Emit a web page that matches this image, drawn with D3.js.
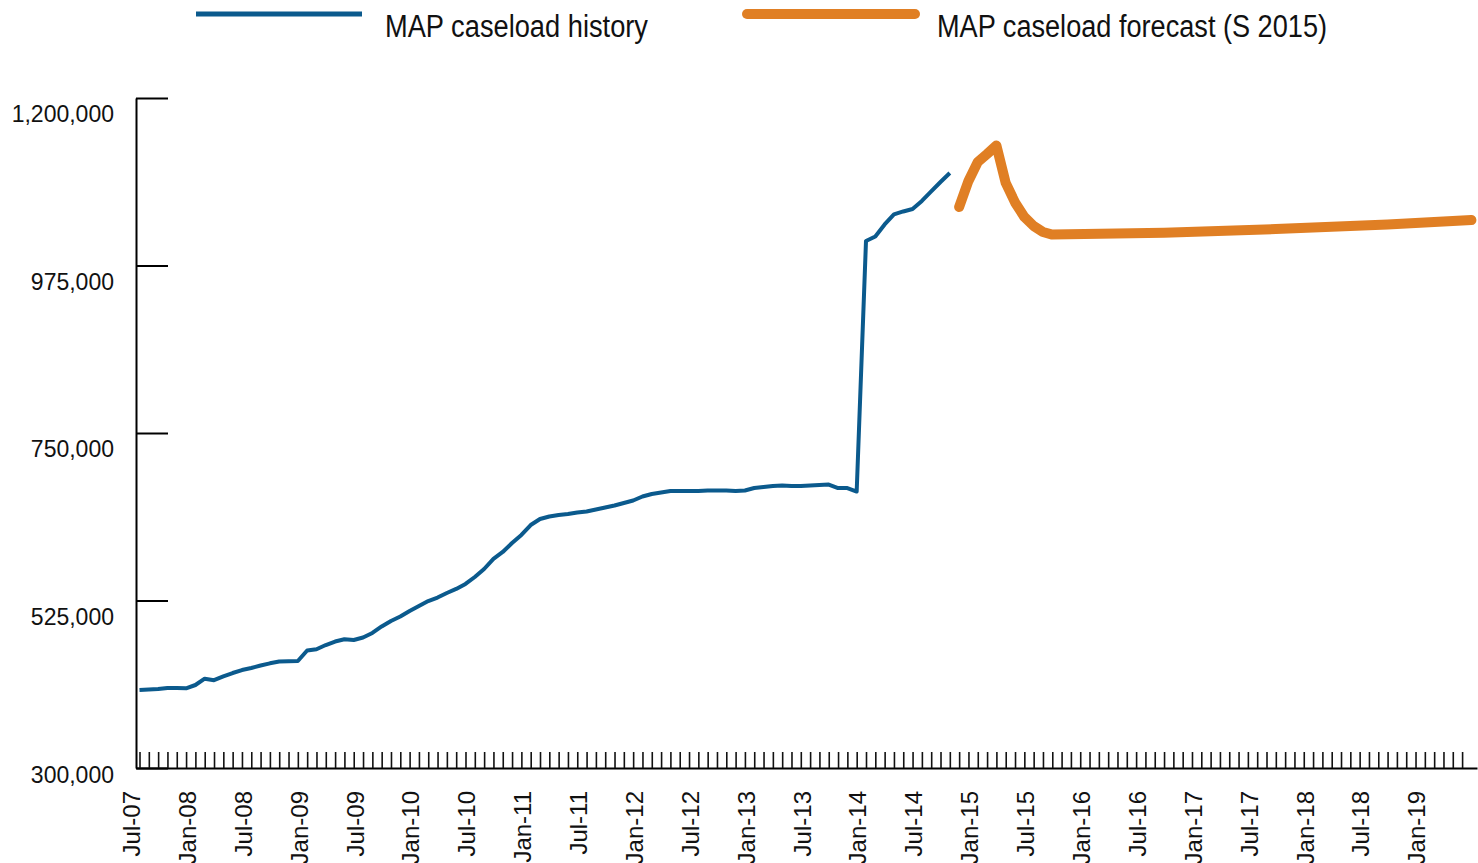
<!DOCTYPE html>
<html><head><meta charset="utf-8">
<script src="https://cdn.jsdelivr.net/npm/d3@7/dist/d3.min.js"></script>
<style>body{margin:0;background:#fff;} svg{display:block}</style>
</head><body><svg id="c" width="1478" height="863"></svg>
<script>
// ---- data ----
const seriesNames = ["MAP caseload history", "MAP caseload forecast (S 2015)"];
const historyStart = "2007-07"; // monthly values from this month
const historyValues = [
  404800, 405500, 406000, 407500, 407500, 407000, 411500, 420000, 418000, 423000,
  427600, 431600, 434300, 437700, 440600, 443000, 443300, 443700, 457800, 459500,
  465200, 469900, 472900, 472000, 475300, 481400, 490100, 497500, 503500, 510900,
  517600, 524300, 529000, 535100, 540500, 547200, 556600, 567300, 580800, 590200,
  602300, 613000, 626400, 634500, 637900, 639900, 641200, 643200, 644600, 647300,
  649900, 652600, 656000, 659300, 664700, 668100, 670100, 672100, 672100, 672100,
  672100, 672800, 672800, 672800, 672100, 672800, 676100, 677500, 678800, 679500,
  678800, 678800, 679500, 680200, 680800, 676100, 676100, 671400, 1008000, 1014000,
  1030100, 1043600, 1047600, 1050900, 1061700, 1074500, 1087200, 1099300
];
const forecastMonths = ["2014-11","2014-12","2015-01","2015-02","2015-03","2015-04","2015-05",
  "2015-06","2015-07","2015-08","2015-09","2016-09","2017-09","2018-09","2019-06"];
const forecastValues = [1053600, 1088600, 1114000, 1124800, 1136200, 1085900, 1059700,
  1040200, 1028100, 1020000, 1016500, 1019000, 1024000, 1030000, 1036000];
const yTickValues = [300000, 525000, 750000, 975000, 1200000];
const monthNames = ["Jan","Feb","Mar","Apr","May","Jun","Jul","Aug","Sep","Oct","Nov","Dec"];
const labelMonths = ["Jan","Jul"];

// ---- helpers ----
const base = historyStart.split("-").map(Number);
function monthIndex(s){ const [yy,mm] = s.split("-").map(Number); return (yy-base[0])*12 + (mm-base[1]); }
function monthLabel(i){ const t = base[1]-1 + i; const yy = base[0] + Math.floor(t/12); const mm = t%12;
  return monthNames[mm] + "-" + String(yy%100).padStart(2,"0"); }

const historyData = historyValues.map((v,i)=>({m:i, v}));
const forecastData = forecastMonths.map((s,i)=>({m:monthIndex(s), v:forecastValues[i]}));

const svg = d3.select("#c");
const x = d3.scaleLinear().domain([-0.376, 143.6]).range([136, 1477]);
const y = d3.scaleLinear().domain([300000, 1200000]).range([768, 98]);

const blue = "#0b5a8d", orange = "#e07f24";
const fontLabel = "'Liberation Sans', Arial, sans-serif";

// ---- y axis ----
const yAxis = d3.axisLeft(y).tickValues(yTickValues).tickSizeInner(-32).tickSizeOuter(0)
  .tickPadding(22).tickFormat(d3.format(","));
const gy = svg.append("g").attr("transform","translate(136,0)").call(yAxis);
gy.select(".domain").attr("stroke","#000").attr("stroke-width",2);
gy.selectAll(".tick line").attr("stroke","#000").attr("stroke-width",2);
gy.selectAll(".tick text").attr("font-family",fontLabel).attr("font-size",23).attr("fill","#111")
  .attr("dy",null).attr("y", d => d === yTickValues[0] ? 14 : 23.5);

// ---- x axis ----
const monthTicks = d3.range(0, 143);
const xAxis = d3.axisBottom(x).tickValues(monthTicks).tickSizeInner(-16).tickSizeOuter(0)
  .tickFormat(i => (i % 6 === 0 && labelMonths.includes(monthLabel(i).slice(0,3))) ? monthLabel(i) : "");
const gx = svg.append("g").attr("transform","translate(0,768)").call(xAxis);
gx.select(".domain").attr("stroke","#000").attr("stroke-width",2);
gx.selectAll(".tick line").attr("stroke","#111").attr("stroke-width",1.6);
gx.selectAll(".tick text").attr("font-family",fontLabel).attr("font-size",24).attr("fill","#111")
  .attr("transform","rotate(-90)").attr("text-anchor","end")
  .attr("x",-23).attr("y",0).attr("dy",0);

// ---- lines ----
const line = d3.line().x(d=>x(d.m)).y(d=>y(d.v));
svg.append("path").datum(historyData).attr("d",line).attr("fill","none")
  .attr("stroke",blue).attr("stroke-width",4).attr("stroke-linejoin","round");
svg.append("path").datum(forecastData).attr("d",line).attr("fill","none")
  .attr("stroke",orange).attr("stroke-width",10).attr("stroke-linejoin","round").attr("stroke-linecap","round");

// ---- legend ----
const lg = svg.append("g");
lg.append("line").attr("x1",196).attr("x2",362).attr("y1",14).attr("y2",14)
  .attr("stroke",blue).attr("stroke-width",5);
lg.append("text").attr("x",385).attr("y",37).text(seriesNames[0])
  .attr("font-family",fontLabel).attr("font-size",31).attr("fill","#111")
  .attr("textLength",263).attr("lengthAdjust","spacingAndGlyphs");
lg.append("line").attr("x1",747).attr("x2",915).attr("y1",14).attr("y2",14)
  .attr("stroke",orange).attr("stroke-width",10).attr("stroke-linecap","round");
lg.append("text").attr("x",937).attr("y",37).text(seriesNames[1])
  .attr("font-family",fontLabel).attr("font-size",31).attr("fill","#111")
  .attr("textLength",390).attr("lengthAdjust","spacingAndGlyphs");
</script>
</body></html>
